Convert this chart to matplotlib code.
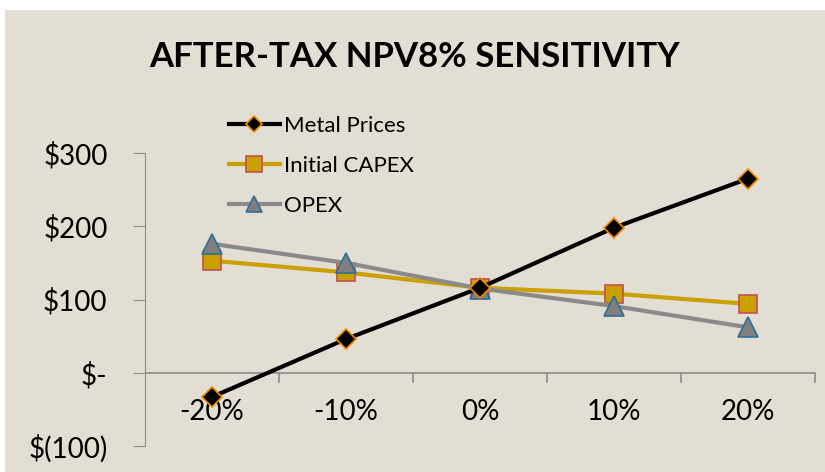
import matplotlib.pyplot as plt
from matplotlib.patches import Rectangle

plt.rcParams['font.family'] = ['Lato', 'DejaVu Sans']

categories = ["-20%", "-10%", "0%", "10%", "20%"]
metal_prices = [-33, 46, 116, 198, 265]
initial_capex = [153, 137, 116, 108, 94]
opex = [176, 150, 115, 91, 62]
y_ticks = [-100, 0, 100, 200, 300]
y_labels = ["$(100)", "$-", "$100", "$200", "$300"]

bg = "#e3ded3"
fig = plt.figure(figsize=(8.25, 4.72), dpi=100, facecolor="white")
# beige panel, leaves a thin white strip top/left like the original
fig.patches.append(Rectangle((5 / 825, 0), 1, 1 - 10 / 472, transform=fig.transFigure,
                             facecolor=bg, edgecolor="none", zorder=-1))

ax = fig.add_axes([145 / 825, 1 - 446 / 472, 670 / 825, 293 / 472])
ax.set_facecolor("none")
ax.set_zorder(2)

x = list(range(len(categories)))
ax.plot(x, metal_prices, color="black", lw=3, marker="D", ms=10,
        mfc="black", mec="#f28c00", mew=1.2, label="Metal Prices", zorder=5)
ax.plot(x, initial_capex, color="#c9a000", lw=3, marker="s", ms=13,
        mfc="#c9a000", mec="#c0504d", mew=1.2, label="Initial CAPEX", zorder=3)
ax.plot(x, opex, color="#8a8a8a", lw=3, marker="^", ms=14,
        mfc="#7f7f7f", mec="#2e6f96", mew=1.2, label="OPEX", zorder=4)

ax.set_xlim(-0.5, len(categories) - 0.5)
ax.set_ylim(-100, 300)

for s in ["top", "right", "bottom"]:
    ax.spines[s].set_visible(False)
ax.spines["left"].set_color("#8c8c8c")
ax.axhline(0, color="#8c8c8c", lw=1.2, zorder=1)

ax.set_yticks(y_ticks)
ax.set_yticklabels(y_labels, fontsize=20)
ax.tick_params(axis="y", length=9, color="#8c8c8c", pad=18)

# category labels centred, tick marks at category boundaries on the zero line
ax.set_xticks(x)
ax.set_xticklabels(categories, fontsize=20)
ax.tick_params(axis="x", length=0, pad=-34)
for b in range(1, len(categories) + 1):
    ax.plot([b - 0.5, b - 0.5], [0, -12], color="#8c8c8c", lw=1.2, clip_on=False)

fig.text(0.503, 1 - 57 / 472, "AFTER-TAX NPV8% SENSITIVITY", ha="center", va="center",
         fontsize=25, fontweight="bold")

fig.legend(loc="upper left", bbox_to_anchor=(220 / 825, 1 - 107 / 472), frameon=False,
           fontsize=16, handlelength=2.3, handletextpad=0.2, labelspacing=0.9,
           borderaxespad=0, markerscale=0.85)

fig.savefig("out.png", dpi=100, facecolor="white")
